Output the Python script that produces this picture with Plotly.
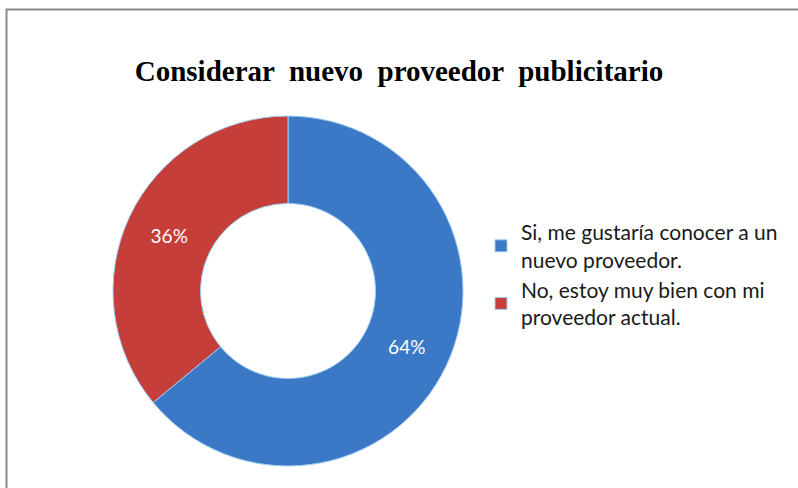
import plotly.graph_objects as go

labels = ["Si, me gustaría conocer a un<br>nuevo proveedor.", "No, estoy muy bien con mi<br>proveedor actual."]
values = [64, 36]
colors = ["#3B79C6", "#C63E3A"]
title_text = "Considerar  nuevo  proveedor  publicitario"

W, H = 798, 488
cx, cy, r = 288, 291, 175

fig = go.Figure(go.Pie(
    labels=labels,
    values=values,
    hole=0.5,
    sort=False,
    direction="clockwise",
    rotation=0,
    marker=dict(colors=colors, line=dict(color="#9fcdf2", width=1)),
    textinfo="percent",
    texttemplate="%{percent:.0%}",
    textposition="inside",
    insidetextorientation="horizontal",
    textfont=dict(family="Lato", size=19, color="white"),
    domain=dict(x=[(cx - r) / W, (cx + r) / W], y=[1 - (cy + r) / H, 1 - (cy - r) / H]),
    showlegend=True,
))

fig.update_layout(
    width=W, height=H,
    margin=dict(l=0, r=0, t=0, b=0),
    paper_bgcolor="white",
    plot_bgcolor="white",
    title=dict(text="<b>" + title_text + "</b>", x=0.5, xanchor="center", y=1 - 71 / H, yanchor="middle",
               font=dict(family="Liberation Serif", size=29, color="black")),
    legend=dict(x=481 / W, xanchor="left", y=1 - 212 / H, yanchor="top",
                font=dict(family="Lato", size=21, color="#1a1a1a"),
                bgcolor="rgba(0,0,0,0)"),
    shapes=[dict(type="rect", xref="paper", yref="paper", x0=6.5 / W, x1=1.05, y0=-0.05, y1=1 - 9.5 / H,
                 line=dict(color="#888888", width=2))],
)

fig.write_html("out.html")
